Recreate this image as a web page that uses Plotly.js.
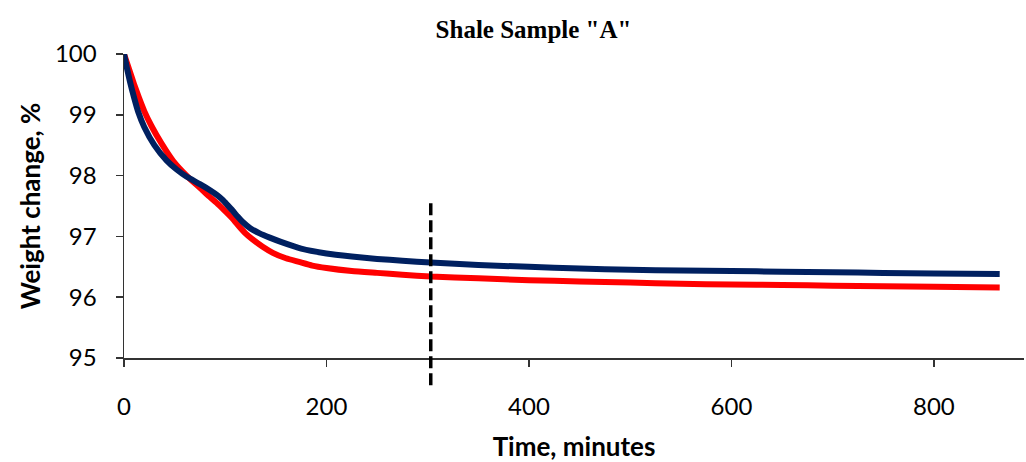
<!DOCTYPE html>
<html>
<head>
<meta charset="utf-8">
<script src="https://cdn.plot.ly/plotly-3.0.1.min.js"></script>
<style>html,body{margin:0;padding:0;background:#fff;}#chart{width:1026px;height:462px;}</style>
</head>
<body>
<div id="chart"></div>
<script>
// Red series (time in minutes, weight change %)
const redTime   = [0, 5, 10, 15, 20, 27, 37, 48.6, 63, 75, 84.7, 93, 101, 108, 114, 120, 127, 137, 147, 160, 173, 186, 200, 225, 250, 275, 303, 350, 400, 450, 500, 550, 600, 650, 700, 750, 800, 865];
const redWeight = [100, 99.75, 99.5, 99.27, 99.06, 98.82, 98.53, 98.24, 97.98, 97.8, 97.65, 97.53, 97.4, 97.28, 97.16, 97.05, 96.95, 96.83, 96.73, 96.64, 96.58, 96.52, 96.48, 96.43, 96.4, 96.37, 96.34, 96.31, 96.28, 96.26, 96.24, 96.22, 96.21, 96.2, 96.19, 96.18, 96.17, 96.16];

// Blue series
const blueTime   = [0, 3, 6, 10, 14, 20, 30, 42, 52, 62, 75, 85, 92, 97.5, 102, 107, 112, 117, 125, 134, 144, 155, 175, 200, 225, 250, 275, 303, 350, 400, 450, 500, 550, 600, 650, 700, 750, 800, 865];
const blueWeight = [100, 99.76, 99.54, 99.28, 99.05, 98.8, 98.5, 98.25, 98.1, 97.98, 97.86, 97.76, 97.68, 97.6, 97.52, 97.43, 97.33, 97.24, 97.13, 97.05, 96.98, 96.91, 96.8, 96.72, 96.67, 96.63, 96.6, 96.57, 96.53, 96.5, 96.47, 96.45, 96.44, 96.43, 96.42, 96.41, 96.4, 96.39, 96.38];

// Vertical marker
const markerTime = 303;

// Axis ticks
const xTicks = [0, 200, 400, 600, 800];
const yTicks = [95, 96, 97, 98, 99, 100];

const traces = [
  {x: redTime, y: redWeight, type: 'scatter', mode: 'lines', line: {color: '#FF0000', width: 6, shape: 'spline', smoothing: 0.5}, hoverinfo: 'skip'},
  {x: blueTime, y: blueWeight, type: 'scatter', mode: 'lines', line: {color: '#002060', width: 6, shape: 'spline', smoothing: 0.5}, hoverinfo: 'skip'}
];

const layout = {
  width: 1026, height: 462,
  margin: {l: 124, r: 2, t: 54, b: 104},
  paper_bgcolor: '#fff', plot_bgcolor: '#fff',
  showlegend: false,
  title: {text: 'Shale Sample "A"', font: {family: 'Liberation Serif', size: 25, color: '#000', weight: 'bold'}, x: 0.52, xanchor: 'center', y: 0.937, yanchor: 'middle'},
  xaxis: {
    range: [0, 889], tickvals: xTicks, ticktext: xTicks.map(String),
    showgrid: false, zeroline: false, showline: true, linecolor: '#333', linewidth: 1.5,
    ticks: 'outside', ticklen: 7, tickwidth: 1.5, tickcolor: '#333',
    ticklabelstandoff: 20,
    tickfont: {family: 'Lato', size: 24, color: '#000'},
    title: {text: 'Time, minutes', font: {family: 'Lato', size: 26, color: '#000', weight: 'bold'}, standoff: 18}
  },
  yaxis: {
    range: [95, 100], tickvals: yTicks, ticktext: yTicks.map(String),
    showgrid: false, zeroline: false, showline: true, linecolor: '#333', linewidth: 1.5,
    ticks: 'outside', ticklen: 7, tickwidth: 1.5, tickcolor: '#333',
    ticklabelstandoff: 14,
    tickfont: {family: 'Lato', size: 24, color: '#000'},
    title: {text: 'Weight change, %', font: {family: 'Lato', size: 26, color: '#000', weight: 'bold'}, standoff: 7}
  },
  shapes: [
    {type: 'line', xref: 'x', yref: 'paper', x0: markerTime, x1: markerTime, y0: -0.09, y1: 0.513,
     line: {color: '#000', width: 3.5, dash: '12px,5px'}}
  ]
};

Plotly.newPlot('chart', traces, layout, {staticPlot: true, displayModeBar: false});
</script>
</body>
</html>
